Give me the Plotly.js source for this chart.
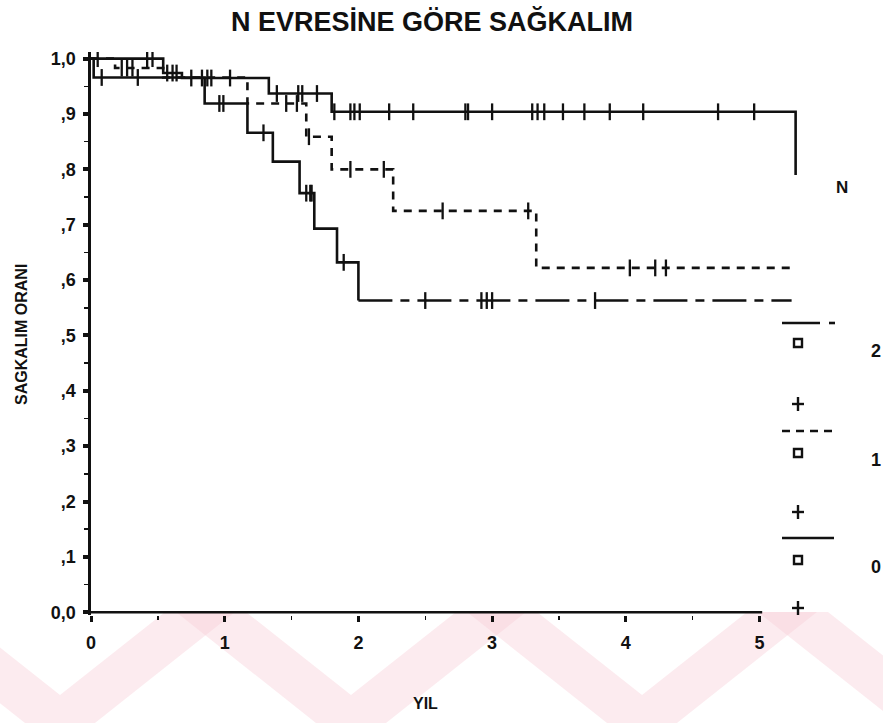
<!DOCTYPE html>
<html>
<head>
<meta charset="utf-8">
<script src="https://cdn.plot.ly/plotly-3.0.1.min.js"></script>
<style>html,body{margin:0;padding:0;background:#fff;}#chart{width:883px;height:723px;}</style>
</head>
<body>
<div id="chart"></div>
<script>
// ---- Data (years, survival proportion) ----
const N0_time = [0, 0.54, 0.68, 1.33, 1.80, 5.27];
const N0_surv = [1.0, 0.974, 0.965, 0.937, 0.904, 0.79];
const N0_cens_time = [0.05, 0.42, 0.46, 0.57, 0.61, 0.64, 0.75, 0.83, 0.87, 0.90, 1.04, 1.39, 1.55, 1.58, 1.69,
  1.82, 1.94, 1.97, 2.01, 2.23, 2.41, 2.80, 2.82, 3.00, 3.30, 3.34, 3.39, 3.53, 3.69, 3.88, 4.13, 4.69, 4.96];
const N0_cens_surv = [1.0, 1.0, 1.0, 0.974, 0.974, 0.974, 0.965, 0.965, 0.965, 0.965, 0.965, 0.937, 0.937, 0.937, 0.937,
  0.904, 0.904, 0.904, 0.904, 0.904, 0.904, 0.904, 0.904, 0.904, 0.904, 0.904, 0.904, 0.904, 0.904, 0.904, 0.904, 0.904, 0.904];

const N1_time = [0, 0.18, 0.54, 1.17, 1.61, 1.80, 2.26, 3.33, 5.27];
const N1_surv = [1.0, 0.983, 0.966, 0.919, 0.859, 0.80, 0.725, 0.622, 0.622];
const N1_cens_time = [0.23, 0.27, 0.31, 1.46, 1.54, 1.63, 1.94, 2.19, 2.63, 3.27, 4.03, 4.22, 4.30];
const N1_cens_surv = [0.983, 0.983, 0.983, 0.919, 0.919, 0.859, 0.80, 0.80, 0.725, 0.725, 0.622, 0.622, 0.622];

const N2_time = [0, 0.02, 0.85, 1.17, 1.36, 1.56, 1.67, 1.84, 2.00, 5.24];
const N2_surv = [1.0, 0.966, 0.919, 0.866, 0.814, 0.757, 0.693, 0.632, 0.563, 0.563];
const N2_cens_time = [0.08, 0.35, 0.96, 0.99, 1.29, 1.61, 1.64, 1.65, 1.89, 2.50, 2.92, 2.96, 3.00, 3.77];
const N2_cens_surv = [0.966, 0.966, 0.919, 0.919, 0.866, 0.757, 0.757, 0.757, 0.632, 0.563, 0.563, 0.563, 0.563, 0.563];

const xTickVals = [0, 1, 2, 3, 4, 5];
const xTickText = ['0', '1', '2', '3', '4', '5'];
const yTickVals = [0, 0.1, 0.2, 0.3, 0.4, 0.5, 0.6, 0.7, 0.8, 0.9, 1.0];
const yTickText = ['0,0', ',1', ',2', ',3', ',4', ',5', ',6', ',7', ',8', ',9', '1,0'];
const groupLabels = ['2', '1', '0'];

const chartTitle = 'N EVRESİNE GÖRE SAĞKALIM';
const xTitle = 'YIL';
const yTitle = 'SAGKALIM ORANI';
const legendTitle = 'N';

// ---- Styling ----
const FONT = 'Liberation Sans, Arial, sans-serif';
const INK = '#111';
const W = 883, H = 723;
const M = {l: 91, r: 70, t: 52, b: 108};
const plotW = W - M.l - M.r, plotH = H - M.t - M.b;
const px2paperX = px => (px - M.l) / plotW;
const px2paperY = py => (H - M.b - py) / plotH;
const txt = (size) => ({family: FONT, size: size, color: INK, weight: 'bold'});

function stepTrace(t, s, dash) {
  return {x: t, y: s, type: 'scatter', mode: 'lines', line: {shape: 'hv', color: INK, width: 2.6, dash: dash},
    hoverinfo: 'skip', showlegend: false};
}
function censTrace(t, s) {
  return {x: t, y: s, type: 'scatter', mode: 'markers',
    marker: {symbol: 'line-ns-open', size: 12, color: INK, line: {color: INK, width: 2.3}},
    hoverinfo: 'skip', showlegend: false};
}

const DASH1 = '8px,7px';
const DASH2 = '34px,8px,9px,8px';
const n2Cut = N2_time.indexOf(2.00);

const traces = [
  stepTrace(N2_time.slice(0, n2Cut + 1), N2_surv.slice(0, n2Cut + 1), 'solid'),
  stepTrace(N2_time.slice(n2Cut), N2_surv.slice(n2Cut), DASH2),
  censTrace(N2_cens_time, N2_cens_surv),
  stepTrace(N1_time, N1_surv, DASH1),
  censTrace(N1_cens_time, N1_cens_surv),
  stepTrace(N0_time, N0_surv, 'solid'),
  censTrace(N0_cens_time, N0_cens_surv)
];

// ---- Custom legend at right (decoration) ----
const shapes = [];
const annotations = [];
function hline(px1, px2, py, dash) {
  shapes.push({type: 'line', xref: 'paper', yref: 'paper', x0: px2paperX(px1), x1: px2paperX(px2),
    y0: px2paperY(py), y1: px2paperY(py), line: {color: INK, width: 2.6, dash: dash || 'solid'}});
}
function square(cx, cy) {
  shapes.push({type: 'rect', xref: 'paper', yref: 'paper', x0: px2paperX(cx - 4), x1: px2paperX(cx + 4),
    y0: px2paperY(cy + 4), y1: px2paperY(cy - 4), line: {color: INK, width: 2.4}, fillcolor: 'rgba(0,0,0,0)'});
}
function plus(cx, cy) {
  shapes.push({type: 'line', xref: 'paper', yref: 'paper', x0: px2paperX(cx - 6), x1: px2paperX(cx + 6),
    y0: px2paperY(cy), y1: px2paperY(cy), line: {color: INK, width: 2.4}});
  shapes.push({type: 'line', xref: 'paper', yref: 'paper', x0: px2paperX(cx), x1: px2paperX(cx),
    y0: px2paperY(cy - 7), y1: px2paperY(cy + 7), line: {color: INK, width: 2.4}});
}
function label(text, px, py, size) {
  annotations.push({text: text, xref: 'paper', yref: 'paper', x: px2paperX(px), y: px2paperY(py),
    xanchor: 'center', yanchor: 'middle', showarrow: false, font: txt(size || 18)});
}

// watermark (pale pink chevrons at the bottom)
[60, 351, 642, 933].forEach(xa => {
  const pts = [[xa - 175, 612], [xa - 105, 612], [xa, 695], [xa + 105, 612], [xa + 175, 612], [xa + 35, 723], [xa - 35, 723]];
  const d = 'M ' + pts.map(p => px2paperX(p[0]).toFixed(4) + ',' + px2paperY(p[1]).toFixed(4)).join(' L ') + ' Z';
  shapes.push({type: 'path', xref: 'paper', yref: 'paper', path: d, fillcolor: 'rgba(248,205,216,0.4)',
    line: {width: 0}, layer: 'below'});
});

// x axis line (ends at 5, curves run past it)
shapes.push({type: 'line', xref: 'x', yref: 'y', x0: 0, x1: 5.02, y0: 0, y1: 0, line: {color: INK, width: 2.6}});

label(legendTitle, 842, 188, 17);
// group 2
hline(782, 820, 323); hline(829, 835, 323);
square(798, 343); label(groupLabels[0], 876, 351); plus(798, 404);
// group 1
hline(782, 834, 431, '8px,6px');
square(798, 453); label(groupLabels[1], 876, 460); plus(798, 512);
// group 0
hline(782, 834, 538);
square(798, 560); label(groupLabels[2], 876, 567); plus(798, 608);

// axis titles
annotations.push({text: xTitle, xref: 'x', yref: 'paper', x: 2.5, y: px2paperY(703), xanchor: 'center', yanchor: 'middle',
  showarrow: false, font: txt(16)});
annotations.push({text: yTitle, xref: 'paper', yref: 'paper', x: px2paperX(22), y: px2paperY(335), textangle: -90,
  xanchor: 'center', yanchor: 'middle', showarrow: false, font: txt(16)});

const layout = {
  width: W, height: H,
  margin: M,
  paper_bgcolor: '#fff', plot_bgcolor: 'rgba(0,0,0,0)',
  title: {text: chartTitle, x: 432 / W, xanchor: 'center', y: 1 - 22 / H, yanchor: 'middle', font: txt(27)},
  showlegend: false,
  xaxis: {range: [0, 5.4], showline: false, zeroline: false, showgrid: false,
    tickmode: 'array', tickvals: xTickVals, ticktext: xTickText,
    ticks: 'outside', ticklen: 6, tickwidth: 3, tickcolor: INK, ticklabelstandoff: 5,
    minor: {tickmode: 'linear', tick0: 0, dtick: 0.5, ticks: 'outside', ticklen: 4, tickwidth: 1.5, tickcolor: INK},
    tickfont: txt(18), fixedrange: true},
  yaxis: {range: [-0.005, 1.012], showline: true, linecolor: INK, linewidth: 2.6, zeroline: false, showgrid: false,
    tickmode: 'array', tickvals: yTickVals, ticktext: yTickText,
    ticks: 'outside', ticklen: 5, tickwidth: 4, tickcolor: INK, ticklabelstandoff: 4,
    minor: {tickmode: 'linear', tick0: 0, dtick: 0.05, ticks: 'outside', ticklen: 4, tickwidth: 1.5, tickcolor: INK},
    tickfont: txt(18), fixedrange: true},
  shapes: shapes,
  annotations: annotations
};

Plotly.newPlot('chart', traces, layout, {staticPlot: true, displayModeBar: false});
</script>
</body>
</html>
